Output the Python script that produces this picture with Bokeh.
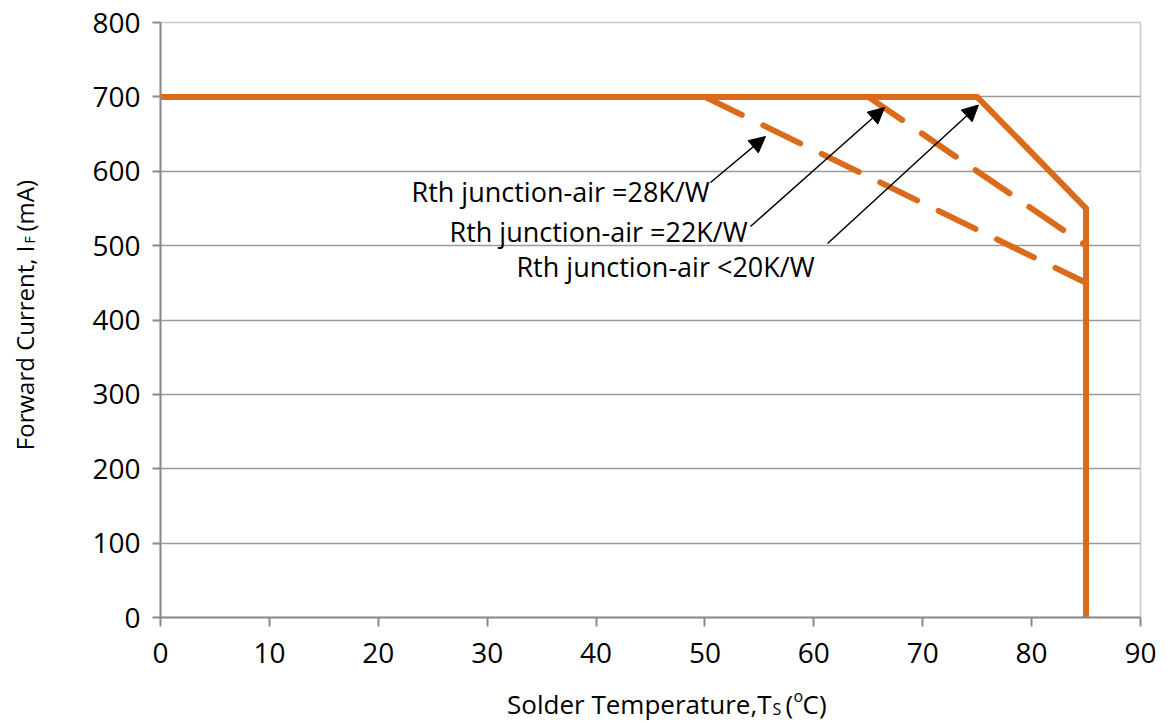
from math import pi
from bokeh.plotting import figure
from bokeh.layouts import row, column
from bokeh.models import Range1d, Label, Arrow, NormalHead, FixedTicker
from bokeh.embed import file_html
from bokeh.resources import INLINE

# ---- data ----
temp_solid = [0, 75, 85, 85]
current_solid = [700, 700, 550, 0]
temp_22 = [65, 85]
current_22 = [700, 500]
temp_28 = [50, 85]
current_28 = [700, 450]

x_ticks = [0, 10, 20, 30, 40, 50, 60, 70, 80, 90]
y_ticks = [0, 100, 200, 300, 400, 500, 600, 700, 800]

ann_texts = ["Rth junction-air =28K/W", "Rth junction-air =22K/W", "Rth junction-air <20K/W"]

ORANGE = "#D96B1A"
AXIS = "#8a8a8a"
FONT = "Open Sans"

# ---- main chart ----
p = figure(width=1107, height=682, output_backend="svg", toolbar_location=None,
           x_range=Range1d(0, 90), y_range=Range1d(0, 800),
           min_border_left=100, min_border_right=27, min_border_top=22, min_border_bottom=65)
p.background_fill_color = "white"
p.border_fill_color = "white"
p.outline_line_color = "#c8c8c8"
p.outline_line_width = 1.5

p.xgrid.visible = False
p.ygrid.ticker = FixedTicker(ticks=y_ticks)
p.ygrid.grid_line_color = "#9a9a9a"
p.ygrid.grid_line_width = 1.5

p.xaxis.ticker = FixedTicker(ticks=x_ticks)
p.yaxis.ticker = FixedTicker(ticks=y_ticks)
for ax in (p.xaxis[0], p.yaxis[0]):
    ax.axis_line_color = AXIS
    ax.axis_line_width = 2
    ax.major_tick_line_color = AXIS
    ax.major_tick_line_width = 2
    ax.major_tick_in = 0
    ax.minor_tick_line_color = None
    ax.major_label_text_font = FONT
    ax.major_label_text_font_size = "28px"
    ax.major_label_text_color = "black"
p.xaxis.major_tick_out = 9
p.xaxis.major_label_standoff = 16
p.yaxis.major_tick_out = 8
p.yaxis.major_label_standoff = 12

# curves
p.line(temp_28, current_28, line_color=ORANGE, line_width=6, line_dash="41 24", line_cap="round")
p.line(temp_22, current_22, line_color=ORANGE, line_width=6, line_dash="41 24", line_cap="round")
p.line(temp_solid, current_solid, line_color=ORANGE, line_width=6, line_join="miter")

# annotation texts
ann_pos = [(23.05, 572.8), (26.54, 519.0), (32.69, 471.9)]
for t, (ax_, ay_) in zip(ann_texts, ann_pos):
    p.add_layout(Label(x=ax_, y=ay_, text=t, text_font=FONT, text_font_size="27px",
                       text_align="left", text_baseline="alphabetic", text_color="black"))

# arrows
arrows = [((50.51, 584.9), (55.56, 646.7)),
          ((54.18, 525.7), (66.49, 685.7)),
          ((61.26, 502.9), (75.12, 689.0))]
for (x0, y0), (x1, y1) in arrows:
    p.add_layout(Arrow(x_start=x0, y_start=y0, x_end=x1, y_end=y1, line_color="black", line_width=1.5,
                       end=NormalHead(size=16, fill_color="black", line_color="black")))


def blank(w, h, xr, yr):
    f = figure(width=w, height=h, output_backend="svg", toolbar_location=None,
               x_range=xr, y_range=yr, min_border=0,
               x_axis_location=None, y_axis_location=None)
    f.grid.visible = False
    f.outline_line_color = None
    f.background_fill_color = "white"
    f.border_fill_color = "white"
    return f


def lab(f, x, y, t, size, align="left", angle=0):
    f.add_layout(Label(x=x, y=y, text=t, text_font=FONT, text_font_size=size, angle=angle,
                       text_align=align, text_baseline="alphabetic", text_color="black"))


# ---- x axis title strip (its frame is aligned with the main frame: page x 160..1140) ----
xl = blank(1107, 45, Range1d(160, 1140), Range1d(727, 682))
lab(xl, 771, 703, "Solder Temperature,T", "26px", "right")
lab(xl, 772, 708, "S", "16px")
lab(xl, 785, 703, "(", "26px")
lab(xl, 793, 695, "o", "16px")
lab(xl, 802, 703, "C)", "26px")

# ---- y axis title strip (page pixel coordinates) ----
yl = blank(60, 727, Range1d(0, 60), Range1d(727, 0))
lab(yl, 24, 245, "Forward Current, I", "24px", "right", pi / 2)
lab(yl, 29, 243, "F", "14px", "left", pi / 2)
lab(yl, 24, 231, "(mA)", "24px", "left", pi / 2)

layout = row(yl, column(p, xl, spacing=0), spacing=0)
open("out.html", "w").write(file_html(layout, INLINE))
